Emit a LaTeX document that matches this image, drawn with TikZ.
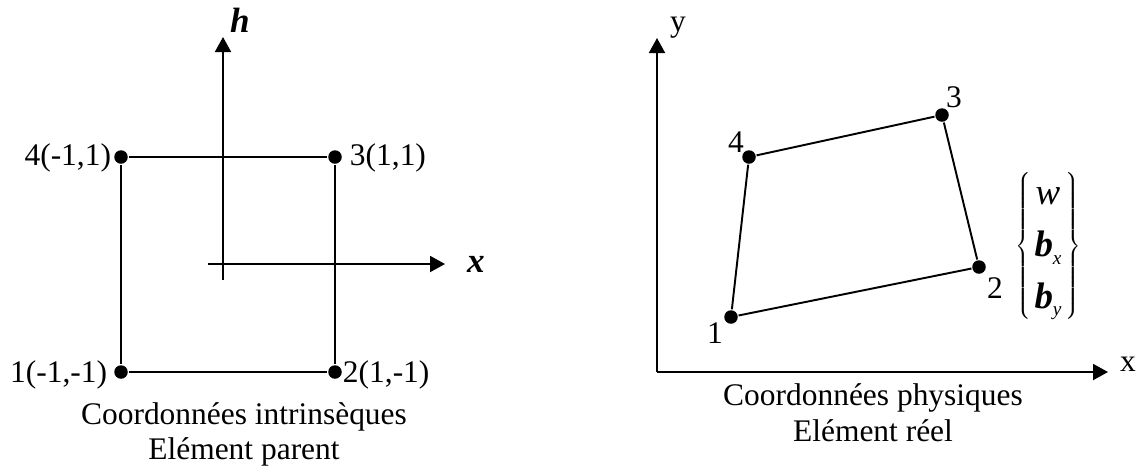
\documentclass[tikz,border=0pt]{standalone}
\usepackage{fontspec}
\setmainfont{Liberation Serif}
\usetikzlibrary{arrows.meta, positioning}

\newcommand{\dofsub}[1]{\raisebox{-0.45ex}{\fontsize{11}{11}\selectfont\textit{#1}}}

\begin{document}
\begin{tikzpicture}[x=0.02cm, y=-0.02cm, line width=1.1pt,
      every node/.style={font=\fontsize{17.9}{20.5}\selectfont},
      dot/.style={circle, fill=black, inner sep=0pt, minimum size=0.27cm},
      axis/.style={-{Triangle[length=0.3cm, width=0.32cm]}},
      lbl/.style={anchor=base, inner sep=0pt}]
   \useasboundingbox (0,0) rectangle (1148,468);
   % Parent element: intrinsic axes
   \coordinate (etaB) at (223,280);
   \coordinate (etaT) at (223,37);
   \coordinate (xiL) at (208,264);
   \coordinate (xiR) at (445,264);
   \draw[axis] (etaB) -- (etaT);
   \draw[axis] (xiL) -- (xiR);
   \node[lbl] (eta) at (240,32) {\fontsize{20}{24}\selectfont\textbf{\textit{h}}};
   \node[lbl] (xi) at (476,272) {\fontsize{20}{24}\selectfont\textbf{\textit{x}}};
   % Parent element: square
   \node[dot] (c1) at (121,372) {};
   \node[dot] (c2) at (335,372) {};
   \node[dot] (c3) at (335,157) {};
   \node[dot] (c4) at (121,157) {};
   \draw (c1) -- (c2) -- (c3) -- (c4) -- (c1);
   \node[lbl, anchor=base east] (c1lab) at (108,382) {1(-1,-1)};
   \node[lbl, anchor=base west] (c2lab) at (342,382) {2(1,-1)};
   \node[lbl, anchor=base west] (c3lab) at (349,165) {3(1,1)};
   \node[lbl, anchor=base east] (c4lab) at (112,165) {4(-1,1)};
   \node[lbl] (capL1) at (244,424) {Coordonnées intrinsèques};
   \node[lbl] (capL2) at (244,459) {Elément parent};
   % Real element: physical axes
   \coordinate (O) at (657,372);
   \coordinate (yT) at (657,38);
   \coordinate (xR) at (1108,372);
   \draw[axis] (O) -- (yT);
   \draw[axis] (O) -- (xR);
   \node[lbl] (ylab) at (678,31) {y};
   \node[lbl] (xlab) at (1128,371) {x};
   % Real element: quadrilateral
   \node[dot] (p1) at (731,317) {};
   \node[dot] (p2) at (979,267) {};
   \node[dot] (p3) at (942,115) {};
   \node[dot] (p4) at (749,157) {};
   \draw (p1) -- (p2) -- (p3) -- (p4) -- (p1);
   \node[lbl] (p1lab) at (715,343) {1};
   \node[lbl] (p2lab) at (995,298) {2};
   \node[lbl] (p3lab) at (954,107) {3};
   \node[lbl] (p4lab) at (736,152) {4};
   \node[font=\fontsize{21}{24}\selectfont] (dof) at (1048,246)
      {$\left\{\def\arraystretch{1.23}\arraycolsep=2pt\begin{array}{c}
      \textit{w}\\ \textbf{\textit{b}}\dofsub{x}\\
      \textbf{\textit{b}}\dofsub{y}
      \end{array}\right\}$};
   \node[lbl] (capR1) at (873,405) {Coordonnées physiques};
   \node[lbl] (capR2) at (873,441) {Elément réel};
\end{tikzpicture}
\end{document}
